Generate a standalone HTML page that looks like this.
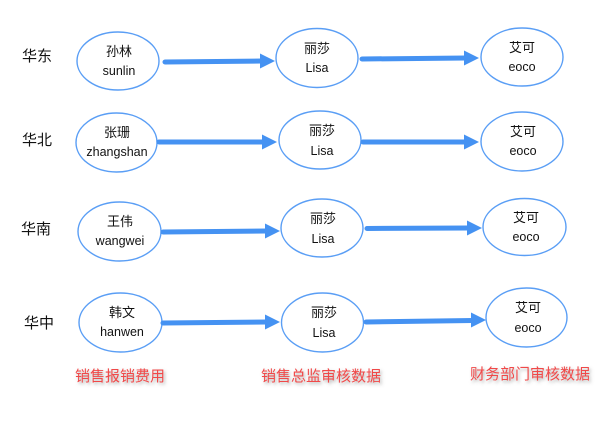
<!DOCTYPE html>
<html>
<head>
<meta charset="utf-8">
<style>
html,body{margin:0;padding:0;background:#fff;}
body{width:608px;height:426px;overflow:hidden;}
svg{display:block;}
.cn{font-family:"Liberation Sans","Noto Sans CJK SC",sans-serif;font-size:13px;fill:#111;}
.en{font-family:"Liberation Sans","Noto Sans CJK SC",sans-serif;font-size:12.5px;fill:#111;}
.rg{font-family:"Liberation Sans","Noto Sans CJK SC",sans-serif;font-size:15px;fill:#111;}
.red{font-family:"Liberation Sans","Noto Sans CJK SC",sans-serif;font-size:15px;fill:#f04848;}
</style>
</head>
<body>
<svg width="608" height="426" viewBox="0 0 608 426" xmlns="http://www.w3.org/2000/svg">
<defs>
<filter id="sh" x="-10%" y="-50%" width="130%" height="200%">
<feDropShadow dx="1.5" dy="2" stdDeviation="1.5" flood-color="#666" flood-opacity="0.55"/>
</filter>
</defs>
<g fill="none" stroke="#5a9ef5" stroke-width="1.4">
<ellipse cx="118" cy="61" rx="41" ry="29"/>
<ellipse cx="317" cy="58" rx="41" ry="29.5"/>
<ellipse cx="522" cy="57" rx="41" ry="29"/>
<ellipse cx="116.5" cy="142.5" rx="40.5" ry="29.5"/>
<ellipse cx="320" cy="140" rx="41" ry="29"/>
<ellipse cx="522" cy="141.5" rx="41" ry="29.5"/>
<ellipse cx="119.5" cy="231.5" rx="41.5" ry="29.5"/>
<ellipse cx="322" cy="228" rx="41" ry="29"/>
<ellipse cx="524.5" cy="227" rx="41.5" ry="28.5"/>
<ellipse cx="120.5" cy="322.5" rx="41.5" ry="29.5"/>
<ellipse cx="322.5" cy="322.5" rx="41" ry="29.5"/>
<ellipse cx="526.5" cy="317.5" rx="40.5" ry="29.5"/>
</g>
<g stroke="#4592f2" stroke-width="5" stroke-linecap="round" fill="none">
<line x1="165" y1="62" x2="262" y2="61"/>
<line x1="362" y1="59" x2="466" y2="58"/>
<line x1="159" y1="142" x2="264" y2="142"/>
<line x1="363" y1="142" x2="466" y2="142"/>
<line x1="163" y1="232" x2="267" y2="231"/>
<line x1="367" y1="228.5" x2="469" y2="228"/>
<line x1="163" y1="323" x2="267" y2="322"/>
<line x1="366" y1="322" x2="473" y2="320.5"/>
</g>
<g fill="#4592f2">
<polygon points="260,53.5 275,61 260,68.5"/>
<polygon points="464,50.5 479,58 464,65.5"/>
<polygon points="262,134.5 277,142 262,149.5"/>
<polygon points="464,134.5 479,142 464,149.5"/>
<polygon points="265,223.5 280,231 265,238.5"/>
<polygon points="467,220.5 482,228 467,235.5"/>
<polygon points="265,314.5 280,322 265,329.5"/>
<polygon points="471,312.5 486,320 471,327.5"/>
</g>
<g text-anchor="middle">
<text class="cn" x="119" y="56">孙林</text>
<text class="en" x="119" y="75">sunlin</text>
<text class="cn" x="317" y="53">丽莎</text>
<text class="en" x="317" y="72">Lisa</text>
<text class="cn" x="522" y="52">艾可</text>
<text class="en" x="522" y="71">eoco</text>

<text class="cn" x="117" y="137">张珊</text>
<text class="en" x="117" y="156">zhangshan</text>
<text class="cn" x="322" y="135">丽莎</text>
<text class="en" x="322" y="155">Lisa</text>
<text class="cn" x="523" y="136">艾可</text>
<text class="en" x="523" y="155">eoco</text>

<text class="cn" x="120" y="226">王伟</text>
<text class="en" x="120" y="245">wangwei</text>
<text class="cn" x="323" y="223">丽莎</text>
<text class="en" x="323" y="243">Lisa</text>
<text class="cn" x="526" y="222">艾可</text>
<text class="en" x="526" y="241">eoco</text>

<text class="cn" x="122" y="317">韩文</text>
<text class="en" x="122" y="336">hanwen</text>
<text class="cn" x="324" y="317">丽莎</text>
<text class="en" x="324" y="337">Lisa</text>
<text class="cn" x="528" y="312">艾可</text>
<text class="en" x="528" y="332">eoco</text>
</g>
<text class="rg" x="22" y="61">华东</text>
<text class="rg" x="22" y="145">华北</text>
<text class="rg" x="21" y="234">华南</text>
<text class="rg" x="24" y="328">华中</text>
<g filter="url(#sh)">
<text class="red" x="75" y="381">销售报销费用</text>
<text class="red" x="261" y="381">销售总监审核数据</text>
<text class="red" x="470" y="379">财务部门审核数据</text>
</g>
</svg>
</body>
</html>
